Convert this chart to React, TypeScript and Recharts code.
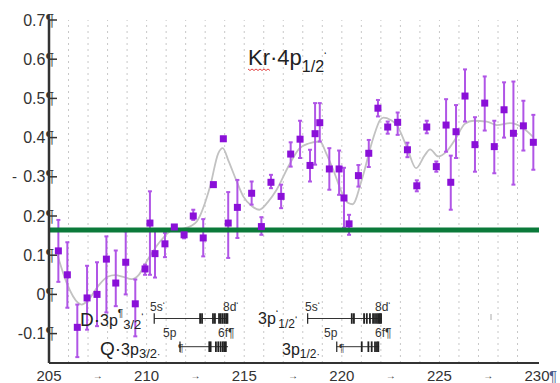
import React from "react";
import {
  ComposedChart,
  Scatter,
  Line,
  XAxis,
  YAxis,
  ErrorBar,
  ReferenceLine,
} from "recharts";

// measured points (photon energy, cross section, error bar bounds)
const energy = [
  205.48, 205.94, 206.45, 206.95, 207.46, 207.94, 208.42, 208.93, 209.42, 209.92,
  210.17, 210.43, 210.94, 211.42, 211.92, 212.39, 212.9, 213.42, 213.93, 214.18,
  214.65, 215.38, 215.88, 216.37, 216.89, 217.38, 217.86, 218.37, 218.63, 218.87,
  219.36, 219.86, 220.11, 220.37, 220.85, 221.38, 221.85, 222.35, 222.86, 223.36,
  223.84, 224.35, 224.84, 225.34, 225.58, 225.85, 226.31, 226.82, 227.32, 227.81,
  228.31, 228.79, 229.3, 229.81,
];
const crossSection = [
  0.111, 0.05, -0.084, -0.009, 0.0, 0.09, 0.029, 0.082, -0.024, 0.065,
  0.182, 0.104, 0.129, 0.172, 0.152, 0.2, 0.144, 0.28, 0.397, 0.182,
  0.222, 0.258, 0.173, 0.286, 0.25, 0.358, 0.396, 0.329, 0.41, 0.438,
  0.32, 0.32, 0.246, 0.18, 0.303, 0.36, 0.475, 0.427, 0.439, 0.369,
  0.277, 0.427, 0.326, 0.432, 0.286, 0.415, 0.506, 0.382, 0.488, 0.377,
  0.471, 0.411, 0.43, 0.388,
];
const errLow = [
  0.032, -0.034, -0.16, -0.09, -0.081, -0.046, -0.03, 0.0, -0.107, 0.05,
  0.05, 0.043, 0.095, 0.167, 0.143, 0.19, 0.097, 0.275, 0.392, 0.093,
  0.144, 0.229, 0.152, 0.271, 0.22, 0.326, 0.348, 0.288, 0.331, 0.39,
  0.267, 0.254, 0.17, 0.152, 0.275, 0.325, 0.454, 0.41, 0.407, 0.35,
  0.263, 0.411, 0.313, 0.364, 0.216, 0.348, 0.441, 0.313, 0.418, 0.309,
  0.4, 0.28, 0.367, 0.318,
];
const errHigh = [
  0.19, 0.133, -0.026, 0.073, 0.082, 0.148, 0.112, 0.161, 0.038, 0.076,
  0.263, 0.165, 0.157, 0.177, 0.157, 0.216, 0.192, 0.285, 0.402, 0.261,
  0.292, 0.288, 0.197, 0.305, 0.28, 0.388, 0.443, 0.369, 0.488, 0.488,
  0.373, 0.367, 0.323, 0.203, 0.33, 0.394, 0.496, 0.441, 0.464, 0.387,
  0.291, 0.443, 0.339, 0.498, 0.354, 0.483, 0.574, 0.452, 0.556, 0.443,
  0.541, 0.543, 0.494, 0.458,
];

// smoothed fit curve
const fitEnergy = [
  205.43, 205.9, 206.5, 206.67, 207.0, 207.5, 208.0, 208.38, 208.8, 209.24,
  209.6, 210.0, 210.69, 211.37, 211.9, 212.3, 212.57, 213.25, 213.67, 213.9,
  214.2, 214.6, 214.95, 215.4, 215.77, 216.2, 216.66, 217.3, 217.82, 218.3,
  218.88, 219.2, 219.56, 220.0, 220.33, 220.55, 221.02, 221.61, 221.96, 222.13,
  222.5, 222.81, 223.33, 223.8, 224.26, 224.52, 224.94, 225.37, 225.85, 226.3,
  226.74, 227.42, 227.94, 228.62, 229.3, 229.81,
];
const fitValue = [
  0.101, 0.03, -0.022, -0.026, -0.015, 0.02, 0.045, 0.049, 0.045, 0.039,
  0.05, 0.084, 0.135, 0.165, 0.168, 0.175, 0.186, 0.275, 0.36, 0.373,
  0.34, 0.29, 0.25, 0.225, 0.216, 0.235, 0.267, 0.33, 0.372, 0.385,
  0.39, 0.36, 0.318, 0.26, 0.233, 0.23, 0.292, 0.399, 0.445, 0.451,
  0.445, 0.432, 0.376, 0.322, 0.356, 0.37, 0.352, 0.365, 0.399, 0.435,
  0.443, 0.441, 0.432, 0.437, 0.424, 0.401,
];

const xTicks = [205, 207.5, 210, 212.5, 215, 217.5, 220, 222.5, 225, 227.5, 230];
const xTickLabels = ["205", "→", "210", "→", "215", "→", "220", "→", "225", "→", "230"];
const yTicks = [-0.1, 0, 0.1, 0.2, 0.3, 0.4, 0.5, 0.6, 0.7];
const yTickLabels = ["-0.1", "0", "0.1", "0.2", "0.3", "0.4", "0.5", "0.6", "0.7"];
const topTicks = [210, 215, 220, 225, 230];
const gridLines = [
  206, 207, 208, 209, 210, 211, 212, 213, 214, 215, 216, 217,
  218, 219, 220, 221, 222, 223, 224, 225, 226, 227, 228, 229,
];

const baseline = 0.164;

// Rydberg ladders: D 3p3/2, 3p'1/2 (upper row); Q 3p3/2, 3p1/2 (lower row)
const ladderLevel = [-0.0615, -0.0615, -0.1334, -0.1334];
const ladderStart = [210.39, 218.25, 211.71, 219.74];
const ladderEnd = [214.17, 222.04, 214.17, 221.91];
const ladderTicks = [
  [210.39, 212.74, 212.84, 213.4, 213.5, 213.71, 213.8, 213.9, 214.0, 214.08, 214.14],
  [218.25, 220.51, 220.62, 221.14, 221.28, 221.44, 221.6, 221.7, 221.8, 221.88, 221.95, 222.01],
  [211.71, 213.21, 213.28, 213.55, 213.67, 213.79, 213.9, 213.98, 214.06],
  [219.74, 221.02, 221.36, 221.53, 221.7, 221.8, 221.87],
];

const points = energy.map((x, i) => ({
  x,
  y: crossSection[i],
  err: [crossSection[i] - errLow[i], errHigh[i] - crossSection[i]],
}));
const fit = fitEnergy.map((x, i) => ({ x, y: fitValue[i] }));

const font = "'Liberation Sans', Arial, sans-serif";

const BottomTick = (props: any) => {
  const { x, y, payload } = props;
  const label = xTickLabels[xTicks.indexOf(payload.value)];
  if (label === "→") {
    return (
      <text x={x} y={y + 16} textAnchor="middle" fontSize={10} fill="#333" fontFamily={font}>
        →
      </text>
    );
  }
  return (
    <g>
      <text x={x} y={y + 18} textAnchor="middle" fontSize={15} fill="#333" fontFamily={font}>
        {label}
      </text>
      {label === "230" ? (
        <text x={x + 12} y={y + 18} fontSize={15} fill="#4a5a8a" fontFamily={font}>
          ¶
        </text>
      ) : null}
    </g>
  );
};

const LeftTick = (props: any) => {
  const { x, y, payload } = props;
  const label = yTickLabels[yTicks.indexOf(payload.value)];
  return (
    <g>
      <line x1={x} x2={x + 8} y1={y} y2={y} stroke="#333" strokeWidth={1.5} />
      <text x={x + 5} y={y} textAnchor="end" dominantBaseline="central" fontSize={16} fill="#333" fontFamily={font}>
        {label}¶
      </text>
    </g>
  );
};

const RightTick = (props: any) => {
  const { x, y } = props;
  return <line x1={x - 9} x2={x} y1={y} y2={y} stroke="#999" strokeWidth={1} />;
};

const TopTick = (props: any) => {
  const { x, y } = props;
  return <line x1={x} x2={x} y1={y} y2={y + 3} stroke="#333" strokeWidth={1.5} />;
};

const Square = (props: any) => {
  const { cx, cy } = props;
  return <rect x={cx - 3.5} y={cy - 3.5} width={7} height={7} fill="#8a10d8" />;
};

export default function App() {
  return (
    <div style={{ position: "absolute", left: 0, top: 0, width: 560, height: 383, background: "#fff" }}>
      <ComposedChart width={560} height={383} margin={{ top: 20, right: 21, bottom: 0, left: 0 }}>
        <XAxis
          xAxisId="main"
          dataKey="x"
          type="number"
          domain={[205, 230.1]}
          ticks={xTicks}
          interval={0}
          height={20}
          tickSize={0}
          tickMargin={0}
          tickLine={false}
          axisLine={{ stroke: "#333", strokeWidth: 2 }}
          tick={<BottomTick />}
          allowDataOverflow
        />
        <XAxis
          xAxisId="top"
          orientation="top"
          type="number"
          domain={[205, 230.1]}
          ticks={topTicks}
          height={0}
          tickSize={0}
          tickMargin={0}
          tickLine={false}
          axisLine={{ stroke: "#333", strokeWidth: 2 }}
          tick={<TopTick />}
          allowDataOverflow
        />
        <YAxis
          yAxisId="main"
          type="number"
          domain={[-0.175, 0.7]}
          ticks={yTicks}
          interval={0}
          width={49}
          tickSize={0}
          tickMargin={0}
          tickLine={false}
          axisLine={{ stroke: "#333", strokeWidth: 2.5 }}
          tick={<LeftTick />}
          allowDataOverflow
        />
        <YAxis
          yAxisId="right"
          orientation="right"
          type="number"
          domain={[-0.175, 0.7]}
          ticks={yTicks}
          width={0}
          tickSize={0}
          tickMargin={0}
          tickLine={false}
          axisLine={{ stroke: "#555", strokeWidth: 2.5 }}
          tick={<RightTick />}
          allowDataOverflow
        />

        {gridLines.map((g) => (
          <ReferenceLine
            key={"g" + g}
            xAxisId="main"
            yAxisId="main"
            x={g}
            stroke="#c8c8c8"
            strokeDasharray="2 4"
            strokeWidth={1}
          />
        ))}

        {ladderLevel.map((lv, i) => (
          <ReferenceLine
            key={"lad" + i}
            xAxisId="main"
            yAxisId="main"
            segment={[
              { x: ladderStart[i], y: lv },
              { x: ladderEnd[i], y: lv },
            ]}
            stroke="#333"
            strokeWidth={1}
          />
        ))}
        {ladderTicks.map((row, i) =>
          row.map((t, j) => (
            <ReferenceLine
              key={"lt" + i + "-" + j}
              xAxisId="main"
              yAxisId="main"
              segment={[
                { x: t, y: ladderLevel[i] - 0.0135 },
                { x: t, y: ladderLevel[i] + 0.0135 },
              ]}
              stroke="#222"
              strokeWidth={j === 0 ? 1.2 : 1.8}
            />
          ))
        )}

        <Line
          xAxisId="main"
          yAxisId="main"
          data={fit}
          dataKey="y"
          type="monotone"
          dot={false}
          stroke="#c2c2c2"
          strokeWidth={1.8}
          isAnimationActive={false}
        />
        <Scatter
          xAxisId="main"
          yAxisId="main"
          data={points}
          dataKey="y"
          shape={<Square />}
          isAnimationActive={false}
        >
          <ErrorBar dataKey="err" direction="y" width={2} stroke="#b055e6" strokeWidth={2} />
        </Scatter>

        <ReferenceLine
          xAxisId="main"
          yAxisId="main"
          y={baseline}
          stroke="#0b7a3a"
          strokeWidth={5}
        />
      </ComposedChart>

      <svg
        width={560}
        height={383}
        style={{ position: "absolute", left: 0, top: 0, pointerEvents: "none" }}
        fontFamily={font}
      >
        <text x={12} y={176} fontSize={15} fill="#333" dominantBaseline="central">-</text>

        <text x={248} y={65} fontSize={22} fill="#222">
          Kr·4p
          <tspan dy={7} fontSize={16}>1/2</tspan>
          <tspan dy={-12} fontSize={11}>‘</tspan>
        </text>
        <path d="M248 69 l2 1.5 l2 -1.5 l2 1.5 l2 -1.5 l2 1.5 l2 -1.5 l2 1.5 l2 -1.5 l2 1.5 l2 -1.5 l2 1.5" stroke="#e03030" strokeWidth={0.9} fill="none" />

        <text x={80} y={326} fontSize={19} fill="#222">
          D·<tspan fontSize={16}>3p</tspan>
          <tspan fontSize={10} dy={-9}>¶</tspan>
          <tspan fontSize={13} dy={12}>3/2</tspan>
          <tspan fontSize={10} dy={-8}>‘</tspan>
        </text>
        <text x={100} y={355} fontSize={19} fill="#222">
          Q·<tspan fontSize={16}>3p</tspan>
          <tspan fontSize={13} dy={3}>3/2</tspan>
          <tspan fontSize={10}>·</tspan>
        </text>
        <text x={258} y={324} fontSize={16} fill="#222">
          3p<tspan fontSize={11} dy={-6}>‘</tspan>
          <tspan fontSize={12} dy={10}>1/2</tspan>
          <tspan fontSize={10} dy={-4}>‘</tspan>
        </text>
        <text x={282} y={355} fontSize={16} fill="#222">
          3p<tspan fontSize={12} dy={3}>1/2</tspan>
          <tspan fontSize={10}>·</tspan>
        </text>

        <text x={150} y={311} fontSize={12} fill="#333">5s<tspan fontSize={9} dy={-3}>‘</tspan></text>
        <text x={223} y={311} fontSize={12} fill="#333">8d<tspan fontSize={9} dy={-3}>‘</tspan></text>
        <text x={163} y={337} fontSize={12} fill="#333">5p</text>
        <text x={218} y={337} fontSize={12} fill="#333">6f¶</text>
        <text x={178} y={352} fontSize={10} fill="#333">¶</text>

        <text x={305} y={311} fontSize={12} fill="#333">5s<tspan fontSize={9} dy={-3}>‘</tspan></text>
        <text x={375} y={311} fontSize={12} fill="#333">8d<tspan fontSize={9} dy={-3}>‘</tspan></text>
        <text x={324} y={337} fontSize={12} fill="#333">5p</text>
        <text x={375} y={337} fontSize={12} fill="#333">6f¶</text>
        <text x={339} y={352} fontSize={10} fill="#333">¶</text>

        <line x1={491} x2={491} y1={314} y2={320} stroke="#aaa" strokeWidth={1} />
      </svg>
    </div>
  );
}
